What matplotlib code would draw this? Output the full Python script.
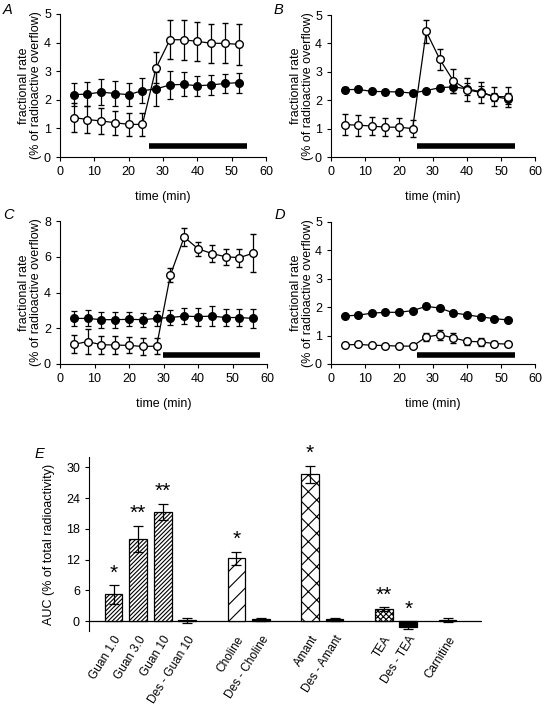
import numpy as np
import matplotlib
matplotlib.use("Agg")
import matplotlib.pyplot as plt

plt.rcParams['font.family'] = ['Liberation Sans', 'DejaVu Sans']
plt.rcParams['hatch.linewidth'] = 0.8

# ---- time course data (panels A-D) ----
t13 = [4, 8, 12, 16, 20, 24, 28, 32, 36, 40, 44, 48, 52]
t14 = [4, 8, 12, 16, 20, 24, 28, 32, 36, 40, 44, 48, 52, 56]

a_filled = [2.18, 2.2, 2.27, 2.22, 2.18, 2.32, 2.38, 2.52, 2.54, 2.49, 2.52, 2.57, 2.6]
a_filled_err = [0.41, 0.42, 0.45, 0.43, 0.4, 0.44, 0.6, 0.5, 0.42, 0.34, 0.35, 0.33, 0.35]
a_open = [1.38, 1.31, 1.26, 1.2, 1.14, 1.14, 3.12, 4.1, 4.1, 4.04, 3.98, 3.97, 3.94]
a_open_err = [0.5, 0.48, 0.45, 0.42, 0.4, 0.4, 0.55, 0.68, 0.7, 0.68, 0.68, 0.7, 0.72]

b_filled = [2.37, 2.38, 2.31, 2.3, 2.29, 2.25, 2.34, 2.44, 2.47, 2.4, 2.3, 2.12, 2.05]
b_filled_err = [0.08, 0.08, 0.07, 0.07, 0.07, 0.07, 0.07, 0.08, 0.2, 0.2, 0.2, 0.15, 0.2]
b_open = [1.14, 1.12, 1.09, 1.05, 1.05, 1.0, 4.42, 3.44, 2.68, 2.37, 2.27, 2.13, 2.12]
b_open_err = [0.37, 0.37, 0.33, 0.32, 0.32, 0.3, 0.4, 0.38, 0.42, 0.4, 0.38, 0.32, 0.35]

c_filled = [2.55, 2.55, 2.48, 2.48, 2.5, 2.48, 2.55, 2.6, 2.68, 2.65, 2.68, 2.6, 2.6, 2.55]
c_filled_err = [0.4, 0.45, 0.45, 0.45, 0.4, 0.4, 0.4, 0.4, 0.45, 0.5, 0.55, 0.5, 0.5, 0.55]
c_open = [1.1, 1.25, 1.08, 1.06, 1.04, 0.98, 1.0, 4.98, 7.1, 6.45, 6.18, 6.0, 5.95, 6.2]
c_open_err = [0.5, 0.7, 0.5, 0.5, 0.45, 0.45, 0.45, 0.4, 0.5, 0.4, 0.45, 0.45, 0.5, 1.05]

d_filled = [1.69, 1.72, 1.79, 1.82, 1.82, 1.88, 2.03, 1.97, 1.8, 1.73, 1.66, 1.6, 1.55]
d_filled_err = [0.05, 0.05, 0.05, 0.05, 0.05, 0.05, 0.06, 0.06, 0.06, 0.05, 0.05, 0.05, 0.05]
d_open = [0.67, 0.69, 0.66, 0.65, 0.63, 0.63, 0.95, 1.03, 0.92, 0.8, 0.78, 0.72, 0.7]
d_open_err = [0.05, 0.05, 0.05, 0.05, 0.05, 0.05, 0.15, 0.18, 0.17, 0.13, 0.13, 0.1, 0.08]

# drug application bars (start, end, level)
a_drug = [26, 54.5, 0.4]
b_drug = [25.3, 54, 0.4]
c_drug = [29.8, 58, 0.48]
d_drug = [25.2, 54, 0.32]

# ---- AUC data (panel E) ----
e_labels = ['Guan 1.0', 'Guan 3.0', 'Guan 10', 'Des - Guan 10', 'Choline', 'Des - Choline',
            'Amant', 'Des - Amant', 'TEA', 'Des - TEA', 'Carnitine']
e_pos = [0, 1, 2, 3, 5, 6, 8, 9, 11, 12, 13.6]
e_vals = [5.2, 16.0, 21.3, 0.1, 12.2, 0.3, 28.6, 0.3, 2.3, -1.2, 0.2]
e_err = [1.8, 2.6, 1.6, 0.4, 1.3, 0.3, 1.7, 0.3, 0.4, 0.3, 0.4]
e_stars = ['*', '**', '**', '', '*', '', '*', '', '**', '*', '']
e_hatch = ['////////', '////////', '////////', '', '//', '', 'xx', '', 'xxxxxx', '', '']
e_face = ['white', 'white', 'white', 'black', 'white', 'black', 'white', 'black', 'white', 'black', 'black']

fig = plt.figure(figsize=(5.45, 7.06), dpi=100)
W, H = 545.0, 706.0


def box(l, t, r, b):
    return [l / W, 1 - b / H, (r - l) / W, (b - t) / H]


def time_panel(rect, letter, lx, ly, xs, filled, ferr, opn, oerr, drug, ymax, yticks):
    ax = fig.add_axes(rect)
    ax.errorbar(xs, filled, yerr=ferr, fmt='-o', color='black', mfc='black', mec='black',
                ms=5.5, lw=0.9, elinewidth=0.9, capsize=2.5, capthick=0.9, zorder=3)
    ax.errorbar(xs, opn, yerr=oerr, fmt='-o', color='black', mfc='white', mec='black',
                ms=5.5, mew=1.0, lw=0.9, elinewidth=0.9, capsize=2.5, capthick=0.9, zorder=4)
    ax.plot([drug[0], drug[1]], [drug[2], drug[2]], color='black', lw=4, solid_capstyle='butt')
    ax.set_xlim(0, 60)
    ax.set_ylim(0, ymax)
    ax.set_xticks([0, 10, 20, 30, 40, 50, 60])
    ax.set_yticks(yticks)
    for s in ['top', 'right']:
        ax.spines[s].set_visible(False)
    ax.tick_params(labelsize=9, length=3, width=0.8)
    ax.set_xlabel('time (min)', fontsize=9, labelpad=9)
    ax.set_ylabel('fractional rate\n(% of radioactive overflow)', fontsize=9, linespacing=1.0)
    ax.yaxis.set_label_coords(-0.085, 0.5)
    fig.text(lx / W, 1 - ly / H, letter, fontsize=10.5, style='italic', ha='left', va='top')
    return ax


time_panel(box(60, 14, 266, 157), 'A', 3, 3, t13, a_filled, a_filled_err, a_open, a_open_err,
           a_drug, 5, [0, 1, 2, 3, 4, 5])
time_panel(box(331, 15, 535, 157), 'B', 274, 3, t13, b_filled, b_filled_err, b_open, b_open_err,
           b_drug, 5, [0, 1, 2, 3, 4, 5])
time_panel(box(60, 221, 267, 364), 'C', 3, 208, t14, c_filled, c_filled_err, c_open, c_open_err,
           c_drug, 8, [0, 2, 4, 6, 8])
time_panel(box(331, 222, 535, 364), 'D', 275, 208, t13, d_filled, d_filled_err, d_open, d_open_err,
           d_drug, 5, [0, 1, 2, 3, 4, 5])

# ---- panel E ----
ax = fig.add_axes(box(89, 457, 482, 631))
for x, v, e, h, fc, st in zip(e_pos, e_vals, e_err, e_hatch, e_face, e_stars):
    ax.bar(x, v, width=0.72, color=fc, edgecolor='black', hatch=h, lw=0.9, zorder=2)
    ax.errorbar(x, v, yerr=e, fmt='none', ecolor='black', elinewidth=0.9, capsize=3.5,
                capthick=0.9, zorder=3)
    if st:
        ytop = max(v + e, 0) + 0.5
        ax.text(x, ytop, st, ha='center', va='bottom', fontsize=15)
ax.axhline(0, color='black', lw=0.9, zorder=1)
ax.set_xlim(-1, 15)
ax.set_ylim(-1.95, 32)
ax.set_yticks([0, 6, 12, 18, 24, 30])
ax.set_xticks(e_pos)
ax.set_xticklabels(e_labels, rotation=58, ha='right', rotation_mode='anchor')
for s in ['top', 'right', 'bottom']:
    ax.spines[s].set_visible(False)
ax.tick_params(axis='x', length=0, pad=2, labelsize=8.5)
ax.tick_params(axis='y', length=3, width=0.8, labelsize=9)
ax.set_ylabel('AUC (% of total radioactivity)', fontsize=9)
ax.yaxis.set_label_coords(-0.087, 0.5)
fig.text(35 / W, 1 - 447 / H, 'E', fontsize=10.5, style='italic', ha='left', va='top')

fig.savefig('out.png', dpi=100)
